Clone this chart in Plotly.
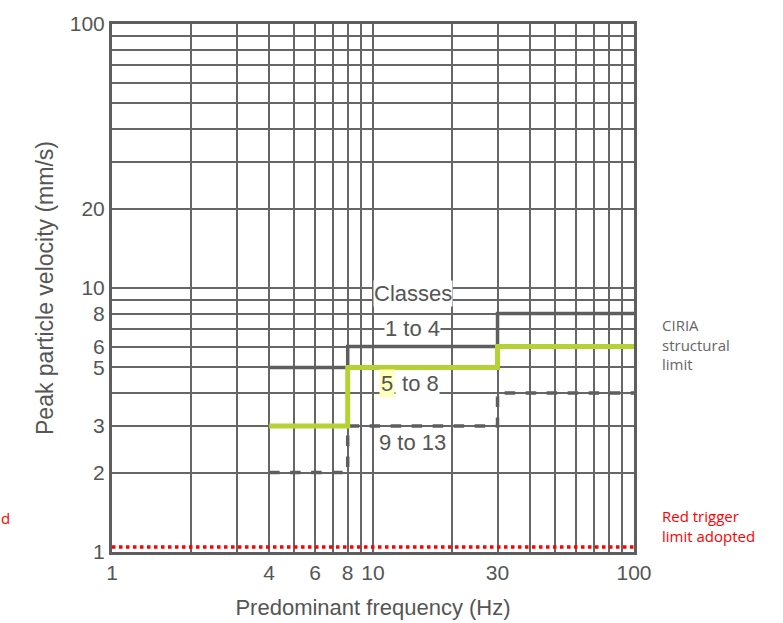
import math
import plotly.graph_objects as go

# ---- data ----
grid_vals = [1, 2, 3, 4, 5, 6, 7, 8, 9, 10, 20, 30, 40, 50, 60, 70, 80, 90, 100]
x_tick_text = ["1", "", "", "4", "", "6", "", "8", "", "10", "", "30", "", "", "", "", "", "", "100"]
y_tick_text = ["1", "2", "3", "", "5", "6", "", "8", "", "10", "20", "", "", "", "", "", "", "", "100"]

freq_steps = [4, 8, 30, 100]
ppv_class_1_4 = [5, 6, 8, 8]
ppv_class_5_8 = [3, 5, 6, 6]
ppv_class_9_13 = [2, 3, 4, 4]

red_freq = [1, 100]
red_ppv = [1.045, 1.045]

GRAY = "#5e5e5e"
GREEN = "#b4d235"
FONT = "Liberation Sans"

fig = go.Figure()
fig.add_trace(go.Scatter(x=freq_steps, y=ppv_class_1_4, mode="lines", line_shape="hv",
                         line=dict(color=GRAY, width=3.5), name="1 to 4"))
fig.add_trace(go.Scatter(x=freq_steps, y=ppv_class_9_13, mode="lines", line_shape="hv",
                         line=dict(color=GRAY, width=3.5, dash="dash"), name="9 to 13"))
fig.add_trace(go.Scatter(x=freq_steps, y=ppv_class_5_8, mode="lines", line_shape="hv",
                         line=dict(color=GREEN, width=5), name="5 to 8"))
fig.add_trace(go.Scatter(x=red_freq, y=red_ppv, mode="lines",
                         line=dict(color="#ff0000", width=3.5, dash="dot"), name="Red trigger"))

axis_common = dict(
    type="log", showgrid=True, gridcolor="#666666", gridwidth=1.8,
    showline=True, linecolor=GRAY, linewidth=3, mirror=True,
    ticks="", zeroline=False, automargin=False,
    tickfont=dict(family=FONT, size=21, color="#555555"),
)

fig.update_xaxes(range=[0, 2], tickvals=grid_vals, ticktext=x_tick_text,
                 title=dict(text="Predominant frequency (Hz)",
                            font=dict(family=FONT, size=22, color="#555555"), standoff=17),
                 **axis_common)
fig.update_yaxes(range=[0, 2], tickvals=grid_vals, ticktext=y_tick_text,
                 title=dict(text="Peak particle velocity (mm/s)",
                            font=dict(family=FONT, size=23, color="#555555"), standoff=10),
                 **axis_common)

lbl_font = dict(family=FONT, size=22, color="#555555")
fig.add_annotation(x=math.log10(14.2), y=math.log10(9.5), text="Classes", showarrow=False,
                   font=lbl_font, bgcolor="white", borderpad=0)
fig.add_annotation(x=math.log10(14.2), y=math.log10(7.05), text="1 to 4", showarrow=False,
                   font=lbl_font, bgcolor="white", borderpad=0)
fig.add_annotation(x=math.log10(11.3), y=math.log10(4.33), text="5", showarrow=False,
                   font=lbl_font, bgcolor="#ffffc0", xanchor="center", borderpad=1)
fig.add_annotation(x=math.log10(12.1), y=math.log10(4.33), text=" to 8", showarrow=False,
                   font=lbl_font, bgcolor="white", xanchor="left", borderpad=0)
fig.add_annotation(x=math.log10(14.2), y=math.log10(2.61), text="9 to 13", showarrow=False,
                   font=lbl_font, bgcolor="white", borderpad=0)

side_font = dict(family="Open Sans", size=15, color="#666666")
fig.add_annotation(xref="paper", yref="paper", x=1.05, y=0.452, xanchor="left", yanchor="top",
                   text="CIRIA<br>structural<br>limit", showarrow=False, align="left", font=side_font)
fig.add_annotation(xref="paper", yref="paper", x=1.05, y=0.09, xanchor="left", yanchor="top",
                   text="Red trigger<br>limit adopted", showarrow=False, align="left",
                   font=dict(family="Open Sans", size=15, color="#ff0000"))
fig.add_annotation(xref="paper", yref="paper", x=-0.2165, y=0.064, xanchor="left", yanchor="middle",
                   text="d", showarrow=False, font=dict(family="Open Sans", size=15, color="#ff0000"))

fig.update_layout(
    width=783, height=623,
    margin=dict(l=112, r=149, t=24, b=71),
    paper_bgcolor="white", plot_bgcolor="white",
    showlegend=False,
)

fig.write_html("out.html")
